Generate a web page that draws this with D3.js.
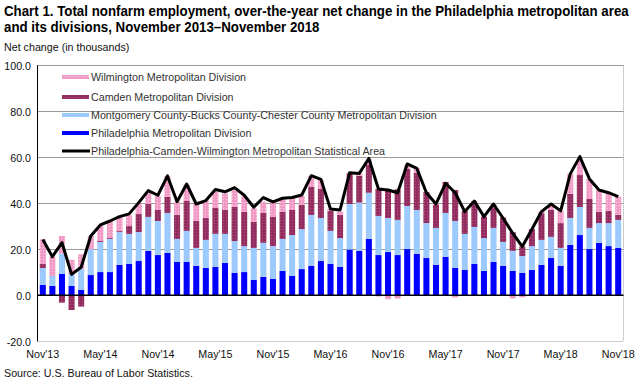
<!DOCTYPE html>
<html><head><meta charset="utf-8">
<script src="https://cdn.jsdelivr.net/npm/d3@7"></script>
<style>body{margin:0;background:#fff} svg{display:block}</style>
</head><body>
<svg id="c" width="637" height="384"></svg>
<script>
// ---------- data ----------
const months = [
 "Nov'13","Dec'13","Jan'14","Feb'14","Mar'14","Apr'14","May'14","Jun'14","Jul'14","Aug'14","Sep'14","Oct'14",
 "Nov'14","Dec'14","Jan'15","Feb'15","Mar'15","Apr'15","May'15","Jun'15","Jul'15","Aug'15","Sep'15","Oct'15",
 "Nov'15","Dec'15","Jan'16","Feb'16","Mar'16","Apr'16","May'16","Jun'16","Jul'16","Aug'16","Sep'16","Oct'16",
 "Nov'16","Dec'16","Jan'17","Feb'17","Mar'17","Apr'17","May'17","Jun'17","Jul'17","Aug'17","Sep'17","Oct'17",
 "Nov'17","Dec'17","Jan'18","Feb'18","Mar'18","Apr'18","May'18","Jun'18","Jul'18","Aug'18","Sep'18","Oct'18","Nov'18"];
const tickLabels = ["Nov'13","May'14","Nov'14","May'15","Nov'15","May'16","Nov'16","May'17","Nov'17","May'18","Nov'18"];
const yTicks = [-20,0,20,40,60,80,100];

const philadelphia = [4.5,4.1,9.3,4.1,2.3,8.8,10.1,10.1,13.2,13.6,14.9,19.3,
 17.5,18.4,14.5,14.5,12.8,11.9,12.3,14.1,9.7,10.1,6.7,8.0,
 7.1,10.6,8.4,11.4,12.8,14.9,13.6,12.3,19.9,19.3,24.5,17.5,
 18.8,17.5,20.1,18.0,16.2,13.2,16.7,11.9,11.0,13.6,10.6,14.5,
 12.8,10.6,9.7,11.0,13.2,16.2,12.8,21.9,26.2,20.1,22.8,21.4,20.6];
const montgomery = [7.4,4.3,8.8,4.9,9.1,11.3,13.1,14.4,14.3,13.1,12.6,14.8,
 14.8,17.4,10.0,13.5,7.8,12.2,14.4,12.6,13.9,11.3,13.9,14.8,
 14.3,13.9,17.8,17.4,22.1,18.7,14.4,12.6,19.8,21.0,20.1,17.0,
 14.8,15.3,18.7,19.1,15.2,16.1,19.1,20.4,15.7,16.1,14.3,14.8,
 10.4,8.7,7.4,10.4,10.9,9.2,7.8,11.7,12.2,9.2,8.6,10.0,12.2];
const camden = [1.7,0.0,-3.2,-6.4,-4.9,0.0,0.6,0.4,0.4,3.4,7.9,5.6,
 4.8,7.0,10.4,13.0,11.7,9.5,11.3,10.4,14.8,14.8,11.3,13.0,
 12.7,11.9,10.9,10.6,12.2,12.6,8.7,10.0,13.3,11.6,12.1,11.7,
 12.5,13.3,16.3,16.2,13.5,10.0,13.5,13.5,10.0,10.0,9.3,9.0,
 10.6,8.2,4.1,7.4,11.6,11.7,10.8,10.5,13.9,12.6,4.8,5.3,2.1];
const wilmington = [10.7,8.4,7.7,6.4,6.4,5.7,6.4,7.5,6.7,4.7,4.6,4.9,
 6.0,9.0,5.8,7.1,7.4,7.6,7.1,7.2,7.7,6.7,5.9,4.9,
 6.5,5.8,5.1,3.8,4.8,3.9,0.8,1.5,0.3,1.0,2.4,-0.5,
 -1.7,-1.4,1.6,1.9,0.0,0.4,0.0,-0.9,0.0,1.3,0.0,1.4,
 0.0,-1.4,-0.9,0.0,0.7,2.2,5.3,8.7,6.5,8.7,9.6,7.6,8.0];
const msaTotal = [24.3,16.8,22.9,9.1,12.2,25.8,30.6,32.3,34.2,35.4,40.3,45.5,
 43.5,51.9,40.7,48.4,39.7,41.2,46.0,45.0,46.8,43.5,38.3,42.5,
 40.6,42.2,42.5,43.6,52.0,50.4,37.5,37.1,53.3,53.0,59.5,46.2,
 45.8,44.6,57.1,55.2,44.6,39.7,48.7,44.6,36.4,41.0,34.2,39.7,
 33.5,27.0,21.2,28.7,36.4,39.7,36.7,52.8,60.3,50.6,45.8,44.6,42.9];

const seriesNames = {
  phila: "Philadelphia Metropolitan Division",
  mont: "Montgomery County-Bucks County-Chester County Metropolitan Division",
  camden: "Camden Metropolitan Division",
  wilm: "Wilmington Metropolitan Division",
  total: "Philadelphia-Camden-Wilmington Metropolitan Statistical Area"
};

// ---------- build ----------
const rows = months.map((m,i)=>({month:m, phila:philadelphia[i], mont:montgomery[i], camden:camden[i], wilm:wilmington[i], total:msaTotal[i]}));
const keys = ["phila","mont","camden","wilm"];

const svg = d3.select("#c");
const FONT = "'Liberation Sans', Arial, sans-serif";
const NARROW = "'Liberation Sans Narrow','Arial Narrow','Liberation Sans',Arial,sans-serif";

// patterns
const defs = svg.append("defs");
const pats = {
  phila: null,
  mont: {base:"#99ccff", dot:"#b9b4f2"},
  camden: {base:"#922d60", dot:"#b8507f"},
  wilm: {base:"#f29ac6", dot:"#fcd0e4"}
};
const fillFor = {phila:"#0000ff"};
Object.entries(pats).forEach(([k,p])=>{
  if(!p) return;
  const pt = defs.append("pattern").attr("id","p_"+k).attr("patternUnits","userSpaceOnUse")
    .attr("width",3).attr("height",3);
  pt.append("rect").attr("width",3).attr("height",3).attr("fill",p.base);
  pt.append("rect").attr("x",1).attr("y",1).attr("width",1).attr("height",1).attr("fill",p.dot);
  fillFor[k] = "url(#p_"+k+")";
});

const x = d3.scaleBand().domain(months).range([38,623]).paddingInner(0.37).paddingOuter(0.185);
const y = d3.scaleLinear().domain([-20,100]).range([341.3,65.3]);

// gridlines
const grid = svg.append("g");
[20,40,60,80,100].forEach(v=>{
  grid.append("line").attr("x1",37.5).attr("x2",623.5).attr("y1",Math.round(y(v))+0.5).attr("y2",Math.round(y(v))+0.5)
    .attr("stroke","#9a9a9a").attr("stroke-width",1);
});
grid.append("line").attr("x1",37.5).attr("x2",623.5).attr("y1",Math.round(y(-20))+0.5).attr("y2",Math.round(y(-20))+0.5)
  .attr("stroke","#9a9a9a").attr("stroke-dasharray","1,1");
grid.append("line").attr("x1",623.5).attr("x2",623.5).attr("y1",y(100)).attr("y2",y(-20))
  .attr("stroke","#9a9a9a").attr("stroke-dasharray","1,1");

// stacked bars
const stack = d3.stack().keys(keys).offset(d3.stackOffsetDiverging);
const stacked = stack(rows);
svg.append("g").selectAll("g").data(stacked).join("g")
  .attr("fill", d=>fillFor[d.key])
  .selectAll("rect").data(d=>d).join("rect")
  .attr("x", d=>x(d.data.month))
  .attr("width", x.bandwidth())
  .attr("y", d=>y(Math.max(d[0],d[1])))
  .attr("height", d=>Math.abs(y(d[0])-y(d[1])));

// zero line and left axis
svg.append("line").attr("x1",37.5).attr("x2",623.5).attr("y1",y(0)).attr("y2",y(0)).attr("stroke","#000").attr("stroke-width",1.4);
svg.append("line").attr("x1",37.5).attr("x2",37.5).attr("y1",y(100)).attr("y2",y(-20)).attr("stroke","#000").attr("stroke-width",1);

// total line
const line = d3.line().x(d=>x(d.month)+x.bandwidth()/2).y(d=>y(d.total)).curve(d3.curveLinear);
svg.append("path").datum(rows).attr("d",line).attr("fill","none").attr("stroke","#000")
  .attr("stroke-width",3).attr("stroke-linejoin","round");

// y axis
const yAxis = svg.append("g").attr("transform","translate(31,0)")
  .call(d3.axisLeft(y).tickValues(yTicks).tickFormat(d=>d.toFixed(1)).tickSize(0).tickPadding(0));
yAxis.select(".domain").remove();
yAxis.selectAll("text").attr("font-family",FONT).attr("font-size",10.7).attr("fill","#111").attr("dy","0.35em");

// x axis
const xAxis = svg.append("g").attr("transform","translate(0,350)")
  .call(d3.axisBottom(x).tickValues(tickLabels).tickSize(0).tickPadding(0));
xAxis.select(".domain").remove();
xAxis.selectAll("text").attr("font-family",FONT).attr("font-size",10.7).attr("fill","#111").attr("dy","0.75em");

// legend
const legend = [
  {key:"wilm", y:77},
  {key:"camden", y:97},
  {key:"mont", y:115},
  {key:"phila", y:133},
  {key:"total", y:151}
];
const lg = svg.append("g");
legend.forEach(l=>{
  if(l.key==="total"){
    lg.append("line").attr("x1",62).attr("x2",90).attr("y1",l.y).attr("y2",l.y).attr("stroke","#000").attr("stroke-width",3);
  } else {
    lg.append("rect").attr("x",62).attr("y",l.y-2).attr("width",27).attr("height",4).attr("fill",fillFor[l.key]);
  }
  lg.append("text").attr("x",91).attr("y",l.y).attr("dy","0.35em").attr("font-family",FONT).attr("font-size",10.7)
    .attr("fill","#333").text(seriesNames[l.key]);
});

// titles (horizontally condensed to the reference width)
const tg1 = svg.append("g");
const t1 = tg1.append("text").attr("x",0).attr("y",0).attr("font-family",NARROW).attr("font-weight","bold")
  .attr("font-size",14.5).attr("fill","#000")
  .text("Chart 1. Total nonfarm employment, over-the-year net change in the Philadelphia metropolitan area");
const tg2 = svg.append("g");
tg2.append("text").attr("x",0).attr("y",0).attr("font-family",NARROW).attr("font-weight","bold")
  .attr("font-size",14.5).attr("fill","#000")
  .text("and its divisions, November 2013\u2013November 2018");
const sc = Math.min(1, 625/t1.node().getComputedTextLength());
tg1.attr("transform",`translate(4,16) scale(${sc},1)`);
tg2.attr("transform",`translate(4,32) scale(${sc},1)`);

svg.append("text").attr("x",4).attr("y",51).attr("font-family",FONT).attr("font-size",10.7).attr("fill","#111")
  .text("Net change (in thousands)");
svg.append("text").attr("x",4).attr("y",377).attr("font-family",FONT).attr("font-size",10.7).attr("fill","#111")
  .text("Source: U.S. Bureau of Labor Statistics.");
</script>
</body></html>
